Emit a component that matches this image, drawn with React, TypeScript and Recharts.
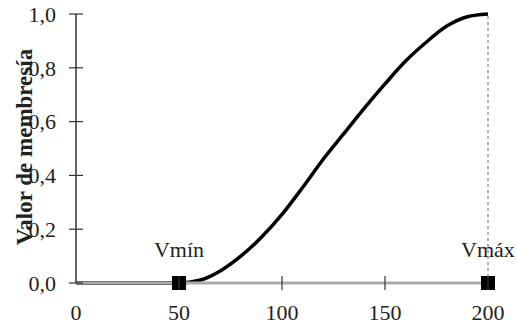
import React from 'react';
import { ComposedChart, XAxis, YAxis, Line, Scatter, ReferenceLine } from 'recharts';

// membership curve
const xValues = [0, 10, 20, 30, 40, 50, 60, 70, 80, 90, 100, 110, 120, 130, 140, 150, 160, 170, 180, 190, 200];
const membership = [0, 0, 0, 0, 0, 0, 0.01, 0.045, 0.1, 0.17, 0.255, 0.355, 0.46, 0.555, 0.65, 0.74, 0.825, 0.895, 0.955, 0.99, 1.0];

const markerX = [50, 200];
const markerLabels = ['Vmín', 'Vmáx'];

const xTicks = [0, 50, 100, 150, 200];
const yTicks = [0, 0.2, 0.4, 0.6, 0.8, 1.0];

const curveData = xValues.map((x, i) => ({ x, y: membership[i] }));
const markerData = markerX.map((x, i) => ({ x, y: 0, label: markerLabels[i] }));

const FONT = 'Liberation Serif';

const YTick = (props: any) => {
    const { x, y, payload } = props;
    return (
        <g>
            <line x1={x - 7} x2={x + 7} y1={y} y2={y} stroke="#333" strokeWidth={1.2} />
            <text x={x - 20} y={y} dy="0.35em" textAnchor="end" style={{ fontFamily: FONT }} fontSize={22} fill="#222">
                {payload.value.toFixed(1).replace('.', ',')}
            </text>
        </g>
    );
};

const XTick = (props: any) => {
    const { x, y, payload } = props;
    return (
        <g>
            {payload.value > 0 && <line x1={x} x2={x} y1={y - 7} y2={y + 7} stroke="#333" strokeWidth={1.2} />}
            <text x={x} y={y + 37} textAnchor="middle" style={{ fontFamily: FONT }} fontSize={22} fill="#222">
                {payload.value}
            </text>
        </g>
    );
};

const Marker = (props: any) => {
    const { cx, cy, payload } = props;
    return (
        <g>
            <rect x={cx - 7} y={cy - 7} width={14} height={14} fill="#000" />
            <text x={cx} y={cy - 26} textAnchor="middle" style={{ fontFamily: FONT }} fontSize={22} fill="#222">
                {payload.label}
            </text>
        </g>
    );
};

const YLabel = () => (
    <text
        x={24}
        y={147}
        transform="rotate(-90, 24, 147)"
        textAnchor="middle"
        dy="0.35em"
        style={{ fontFamily: FONT }}
        fontSize={23}
        fontWeight="bold"
        fill="#222"
    >
        Valor de membresía
    </text>
);

export default function App() {
    return (
        <div style={{ position: 'fixed', left: 0, top: 0, background: '#fff' }}>
            <ComposedChart width={517} height={327} data={curveData} margin={{ top: 14, right: 29, left: 0, bottom: 0 }}>
                <XAxis
                    dataKey="x"
                    type="number"
                    domain={[0, 200]}
                    ticks={xTicks}
                    height={44}
                    tickSize={0}
                    tickMargin={0}
                    tickLine={false}
                    axisLine={{ stroke: '#aaa', strokeWidth: 3 }}
                    tick={<XTick />}
                />
                <YAxis
                    type="number"
                    domain={[0, 1]}
                    ticks={yTicks}
                    width={76}
                    tickSize={0}
                    tickMargin={0}
                    tickLine={false}
                    axisLine={{ stroke: '#333', strokeWidth: 1.5 }}
                    tick={<YTick />}
                    label={<YLabel />}
                />
                <ReferenceLine segment={[{ x: 200, y: 0 }, { x: 200, y: 1 }]} stroke="#666" strokeDasharray="3 3" strokeWidth={1} />
                <Line dataKey="y" type="monotone" stroke="#000" strokeWidth={3.5} dot={false} isAnimationActive={false} />
                <Scatter data={markerData} dataKey="y" shape={<Marker />} isAnimationActive={false} />
            </ComposedChart>
        </div>
    );
}
